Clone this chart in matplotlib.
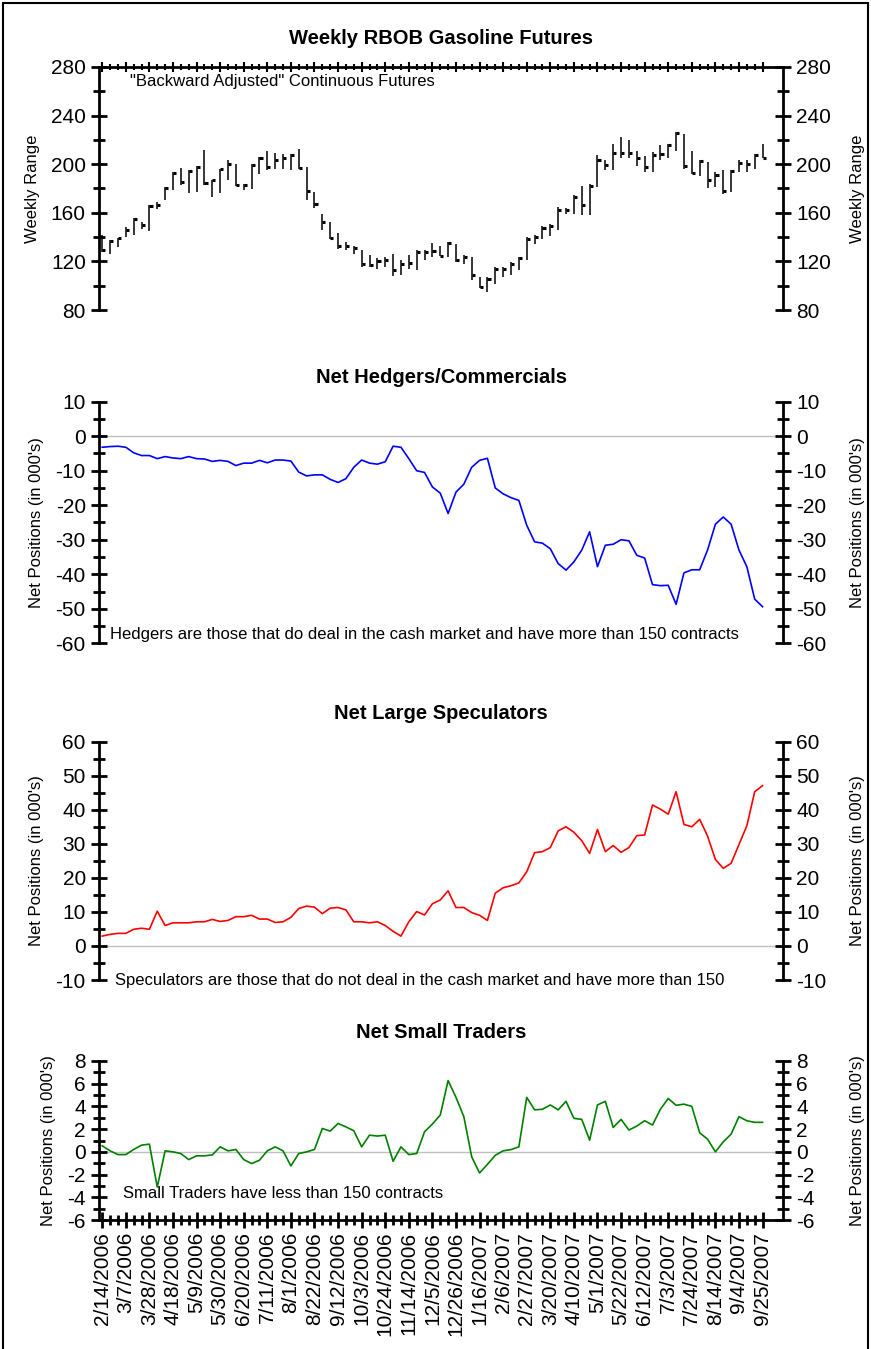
import matplotlib
matplotlib.use('Agg')
import matplotlib.pyplot as plt
from matplotlib.patches import Rectangle
import numpy as np
import pandas as pd

plt.rcParams['font.family'] = ['Liberation Sans', 'DejaVu Sans']
plt.rcParams['axes.unicode_minus'] = False

# weekly dates, 2/14/2006 .. 9/25/2007
dates = pd.date_range('2006-02-14', periods=85, freq='7D')
date_labels = [f'{d.month}/{d.day}/{d.year}' for d in dates]

# RBOB weekly high / low / close
high = [141.6, 138.0, 139.6, 148.4, 156.0, 152.5, 166.3, 169.0, 181.3, 193.7,
        197.0, 195.0, 198.4, 212.0, 187.4, 196.4, 203.3, 200.5, 184.0, 200.5,
        206.0, 210.7, 209.3, 208.0, 208.8, 212.9, 197.8, 177.2, 159.4, 152.5,
        143.0, 136.0, 132.5, 129.2, 125.0, 122.4, 123.7, 126.5, 121.0, 125.0,
        129.2, 129.2, 135.3, 132.5, 136.0, 134.7, 125.0, 123.7, 107.3, 107.3,
        115.5, 115.5, 119.6, 123.7, 140.2, 141.6, 149.0, 151.0, 164.9, 164.3,
        174.5, 181.9, 184.1, 207.4, 203.3, 216.5, 222.5, 220.3, 211.0, 206.6,
        210.2, 215.6, 216.5, 226.6, 224.7, 210.7, 203.8, 201.9, 193.7, 195.6,
        195.6, 203.3, 203.3, 208.8, 216.5]
low = [127.8, 126.5, 132.0, 140.2, 142.0, 147.0, 145.1, 163.5, 170.4, 178.6,
       182.7, 176.4, 177.2, 182.7, 173.0, 176.4, 186.8, 181.9, 179.0, 179.4,
       192.3, 195.0, 196.4, 195.9, 195.0, 196.4, 170.9, 164.3, 145.7, 138.3,
       130.6, 129.2, 126.0, 115.5, 115.0, 114.0, 115.5, 107.8, 108.6, 114.0,
       112.8, 121.0, 123.7, 124.3, 123.7, 119.6, 118.0, 105.0, 97.7, 94.9,
       101.8, 107.3, 108.6, 112.8, 121.0, 134.7, 138.8, 140.7, 145.7, 158.8,
       158.8, 158.0, 158.0, 181.3, 195.6, 195.6, 204.7, 204.7, 198.4, 193.7,
       193.7, 203.8, 204.7, 211.0, 196.4, 192.3, 190.0, 180.0, 181.3, 175.3,
       177.2, 193.7, 193.7, 196.4, 204.7]
close = [129.0, 137.0, 139.0, 146.2, 155.0, 150.3, 165.4, 166.3, 180.5, 193.1,
         185.5, 194.5, 197.8, 184.6, 186.8, 195.9, 200.5, 182.7, 182.7, 199.7,
         205.2, 197.8, 203.3, 204.7, 207.4, 197.0, 177.8, 167.6, 152.5, 139.6,
         132.5, 132.5, 131.0, 117.7, 116.9, 120.4, 121.5, 112.8, 118.2, 118.8,
         127.8, 127.8, 128.6, 124.3, 135.3, 121.0, 123.7, 108.6, 99.0, 105.9,
         114.1, 114.1, 118.2, 122.4, 138.8, 140.2, 147.9, 149.0, 162.7, 162.1,
         173.1, 166.3, 181.9, 203.8, 199.7, 209.3, 209.3, 209.3, 205.5, 197.8,
         207.4, 208.8, 215.6, 226.0, 198.4, 193.1, 202.7, 186.8, 190.9, 178.0,
         194.5, 201.1, 200.0, 207.4, 205.2]

# net positions, thousands of contracts
hedgers = [-3.2, -3.0, -2.9, -3.2, -4.8, -5.6, -5.6, -6.5, -5.9, -6.3,
           -6.5, -5.9, -6.5, -6.6, -7.3, -7.0, -7.3, -8.5, -7.8, -7.8,
           -7.0, -7.7, -6.9, -6.9, -7.2, -10.4, -11.5, -11.2, -11.2, -12.5,
           -13.4, -12.3, -9.0, -6.9, -7.8, -8.1, -7.4, -2.9, -3.2, -6.5,
           -10.0, -10.5, -14.7, -16.5, -22.4, -16.2, -13.9, -9.0, -7.0, -6.4,
           -15.0, -16.7, -17.8, -18.6, -25.8, -30.6, -31.0, -32.6, -36.9, -38.8,
           -36.4, -33.0, -27.7, -37.8, -31.6, -31.3, -30.0, -30.3, -34.5, -35.3,
           -43.0, -43.3, -43.2, -48.7, -39.6, -38.7, -38.7, -33.0, -25.5, -23.4,
           -25.5, -33.0, -37.8, -47.2, -49.4]
large_specs = [2.9, 3.4, 3.7, 3.7, 4.9, 5.2, 4.9, 10.2, 6.0, 6.8,
               6.8, 6.8, 7.1, 7.1, 7.8, 7.2, 7.5, 8.6, 8.6, 9.0,
               7.9, 7.9, 6.9, 7.1, 8.4, 11.0, 11.7, 11.4, 9.5, 11.1,
               11.3, 10.6, 7.1, 7.1, 6.8, 7.1, 6.0, 4.3, 2.9, 7.1,
               10.1, 9.1, 12.4, 13.5, 16.2, 11.3, 11.3, 9.8, 9.0, 7.5,
               15.5, 17.1, 17.7, 18.5, 21.8, 27.4, 27.7, 28.9, 33.8, 35.0,
               33.4, 30.9, 27.2, 34.2, 27.7, 29.5, 27.5, 28.9, 32.4, 32.6,
               41.4, 40.2, 38.7, 45.3, 35.7, 35.0, 37.2, 32.3, 25.4, 22.8,
               24.3, 29.8, 35.3, 45.3, 47.1]
small = [0.53, 0.09, -0.24, -0.24, 0.21, 0.59, 0.68, -3.1, 0.09, 0.0,
         -0.15, -0.68, -0.35, -0.35, -0.27, 0.44, 0.09, 0.21, -0.68, -1.03,
         -0.74, 0.09, 0.44, 0.09, -1.24, -0.15, 0.0, 0.21, 2.06, 1.83,
         2.5, 2.2, 1.86, 0.44, 1.47, 1.39, 1.47, -0.83, 0.44, -0.24,
         -0.15, 1.77, 2.45, 3.24, 6.28, 4.8, 3.1, -0.44, -1.86, -1.1,
         -0.3, 0.09, 0.2, 0.44, 4.8, 3.7, 3.75, 4.13, 3.7, 4.45,
         2.95, 2.86, 1.03, 4.13, 4.45, 2.15, 2.86, 1.92, 2.27, 2.74,
         2.36, 3.75, 4.7, 4.1, 4.2, 4.0, 1.68, 1.12, 0.0, 0.88,
         1.56, 3.1, 2.74, 2.6, 2.6]

x = np.arange(len(dates))
W, H = 871, 1349
fig = plt.figure(figsize=(W / 100, H / 100), dpi=100, facecolor='white')

L, R = 99, 783


def add_axes(top, bottom):
    return fig.add_axes([L / W, 1 - bottom / H, (R - L) / W, (bottom - top) / H])


def style(ax, ylim, major, minor, ylabel, title, title_y):
    ax.set_xlim(-0.41, 86.6)
    ax.set_ylim(*ylim)
    ax.set_yticks(np.arange(ylim[0], ylim[1] + 0.1, major))
    ax.set_yticks(np.arange(ylim[0], ylim[1] + 0.1, minor), minor=True)
    for s in ['top', 'bottom']:
        ax.spines[s].set_visible(False)
    for s in ['left', 'right']:
        ax.spines[s].set_linewidth(2)
    ax.tick_params(axis='y', which='both', left=True, right=True,
                   labelleft=True, labelright=True, direction='inout', width=2)
    ax.tick_params(axis='y', which='major', length=11, labelsize=15, pad=4)
    ax.tick_params(axis='y', which='minor', length=8)
    ax.set_xticks([])
    ax.set_ylabel(ylabel, fontsize=12, labelpad=8)
    ax.text((857 - L) / (R - L), 0.5, ylabel, transform=ax.transAxes, rotation=90,
            ha='center', va='center', fontsize=12)
    fig.text((L + R) / 2 / W, 1 - title_y / H, title, ha='center', va='center',
             fontsize=14.5, fontweight='bold')


# ---- Panel 1: weekly bars
ax1 = add_axes(67, 310)
style(ax1, (80, 280), 40, 20, 'Weekly Range', 'Weekly RBOB Gasoline Futures', 38)
ax1.spines['top'].set_visible(True)
ax1.spines['top'].set_linewidth(2)
ax1.set_xticks(x[::3])
ax1.set_xticks(x, minor=True)
ax1.tick_params(axis='x', which='both', bottom=False, top=True, labelbottom=False,
                direction='inout', width=1.5)
ax1.tick_params(axis='x', which='major', length=7)
ax1.tick_params(axis='x', which='minor', length=4)
ax1.vlines(x, low, high, color='black', lw=1.1)
ax1.hlines(close, x, x + 0.4, color='black', lw=2.2)
ax1.text(0.045, 0.94, '"Backward Adjusted" Continuous Futures',
         transform=ax1.transAxes, fontsize=12, va='center')

# ---- Panel 2: hedgers
ax2 = add_axes(401.7, 643.3)
style(ax2, (-60, 10), 10, 5, "Net Positions (in 000's)", 'Net Hedgers/Commercials', 378)
ax2.axhline(0, color='#c0c0c0', lw=1, zorder=0)
ax2.plot(x, hedgers, color='blue', lw=1.2)
ax2.text(0.016, 0.035, 'Hedgers are those that do deal in the cash market and have more than 150 contracts',
         transform=ax2.transAxes, fontsize=12, va='center')

# ---- Panel 3: large speculators
ax3 = add_axes(741.7, 980)
style(ax3, (-10, 60), 10, 5, "Net Positions (in 000's)", 'Net Large Speculators', 713)
ax3.axhline(0, color='#c0c0c0', lw=1, zorder=0)
ax3.plot(x, large_specs, color='red', lw=1.2)
ax3.text(0.024, 0.0, 'Speculators are those that do not deal in the cash market and have more than 150',
         transform=ax3.transAxes, fontsize=12, va='center')

# ---- Panel 4: small traders
ax4 = add_axes(1061, 1220)
style(ax4, (-6, 8), 2, 1, "Net Positions (in 000's)", 'Net Small Traders', 1033)
ax4.axhline(0, color='#c0c0c0', lw=1, zorder=0)
ax4.plot(x, small, color='green', lw=1.2)
ax4.text(0.035, 0.165, 'Small Traders have less than 150 contracts',
         transform=ax4.transAxes, fontsize=12, va='center')
ax4.spines['bottom'].set_visible(True)
ax4.spines['bottom'].set_linewidth(2)
ax4.set_xticks(x[::3])
ax4.set_xticklabels(date_labels[::3], rotation=90, fontsize=15)
ax4.set_xticks(x, minor=True)
ax4.tick_params(axis='x', which='both', bottom=True, direction='inout', width=2)
ax4.tick_params(axis='x', which='major', length=11, pad=3)
ax4.tick_params(axis='x', which='minor', length=7)

# outer frame
fig.patches.append(Rectangle((3 / W, -0.01), (W - 6) / W, 1.01 - 3 / H,
                             transform=fig.transFigure, fill=False,
                             edgecolor='black', lw=1.5))

plt.savefig('out.png', dpi=100, facecolor='white')
plt.close()
